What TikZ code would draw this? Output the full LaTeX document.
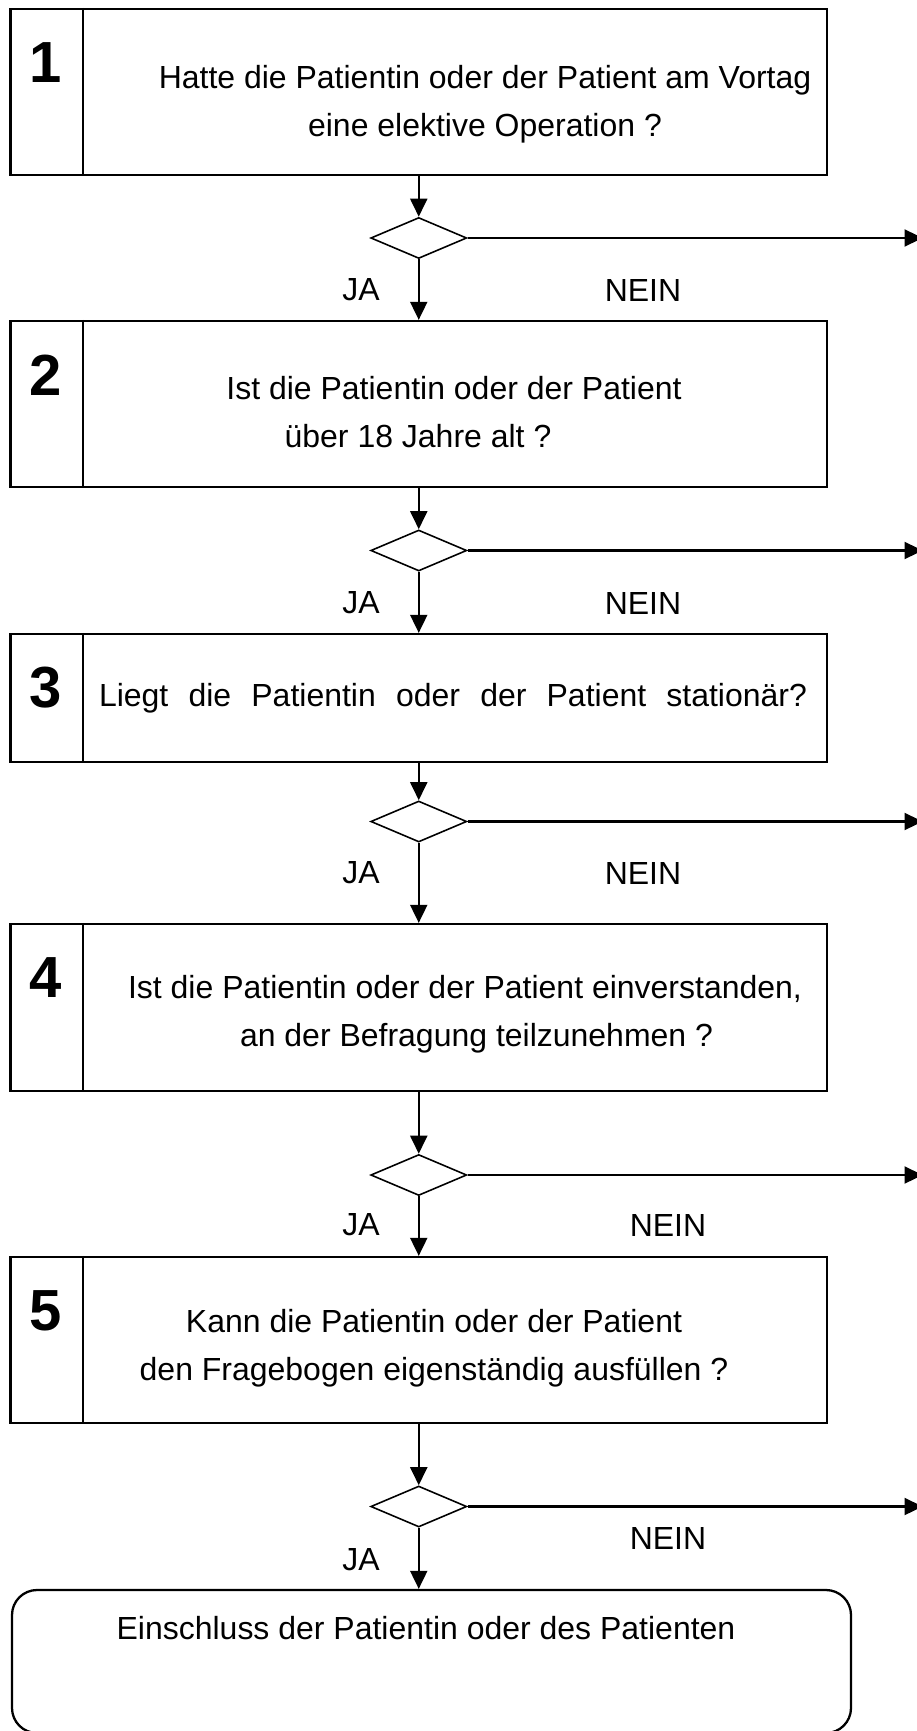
\documentclass[tikz,border=0pt]{standalone}
\usepackage{fontspec}
\setmainfont{Liberation Sans}
\usetikzlibrary{shapes.geometric}
\usetikzlibrary{arrows.meta}

\begin{document}
\begin{tikzpicture}[
    qbox/.style={draw, rectangle, line width=1.3pt, minimum width=16.33cm, minimum height=3.32cm},
    qtext/.style={align=center, font=\fontsize{18.2}{27.5}\selectfont},
    qnum/.style={font=\fontsize{33}{33}\selectfont\bfseries},
    check/.style={draw, diamond, line width=0.9pt, inner sep=0pt, minimum width=1.92cm, minimum height=0.82cm},
    flow/.style={line width=1.1pt, -{Triangle[length=0.36cm,width=0.34cm]}},
    answer/.style={font=\fontsize{18.2}{18}\selectfont}
]
            \useasboundingbox (0,0) rectangle (18.34,-34.62);

            % Question boxes
            \node[qbox] (box1) at (8.375,-1.84) {};
            \node[qbox] (box2) at (8.375,-8.08) {};
            \node[qbox, minimum height=2.56cm] (box3) at (8.375,-13.96) {};
            \node[qbox, minimum height=3.34cm] (box4) at (8.375,-20.15) {};
            \node[qbox] (box5) at (8.375,-26.8) {};
            \node[draw, rectangle, rounded corners=0.5cm, line width=1.3pt, minimum width=16.78cm, minimum height=2.86cm] (incl) at (8.63,-33.23) {};

            % Step numbers and dividers
            \foreach \i in {1,...,5} {
                \node[qnum] (num\i) at ([xshift=0.73cm,yshift=-1.1cm]box\i.north west) {\i};
                \draw[line width=0.8pt] ([xshift=1.47cm]box\i.north west) -- ([xshift=1.47cm]box\i.south west);
            }

            % Questions
            \node[qtext] (q1) at (9.7,-2.08) {Hatte die Patientin oder der Patient am Vortag\\eine elektive Operation ?};
            \node[qtext] (q2) at (9.08,-8.24) {Ist die Patientin oder der Patient\\über 18 Jahre alt ?\hspace*{1.44cm}};
            \node[qtext] (q3) at (9.06,-13.96) {\makebox[14.16cm][s]{Liegt die Patientin oder der Patient stationär?}};
            \node[qtext] (q4) at (9.3,-20.28) {Ist die Patientin oder der Patient einverstanden,\\\hspace*{0.46cm}an der Befragung teilzunehmen ?};
            \node[qtext] (q5) at (8.68,-26.96) {Kann die Patientin oder der Patient\\den Fragebogen eigenständig ausfüllen ?};
            \node[qtext] (q6) at (8.52,-32.56) {Einschluss der Patientin oder des Patienten};

            % Decisions
            \node[check] (d1) at (8.375,-4.76) {};
            \node[check] (d2) at (8.375,-11.01) {};
            \node[check] (d3) at (8.375,-16.43) {};
            \node[check] (d4) at (8.375,-23.5) {};
            \node[check] (d5) at (8.375,-30.13) {};

            \coordinate (out1) at (18.45,-4.76);
            \coordinate (out2) at (18.45,-11.01);
            \coordinate (out3) at (18.45,-16.43);
            \coordinate (out4) at (18.45,-23.5);
            \coordinate (out5) at (18.45,-30.13);

            % Connectors
            \foreach \i/\j in {1/2,2/3,3/4,4/5} {
                \draw[flow] (box\i.south) -- (d\i.north);
                \draw[flow] (d\i.south) -- (box\j.north);
            }
            \draw[flow] (box5.south) -- (d5.north);
            \draw[flow] (d5.south) -- (d5.south |- incl.north);
            \foreach \i in {1,...,5}
                \draw[flow, line width=1.3pt] (d\i.east) -- (out\i);

            % Answers
            \node[answer] (ja1) at (7.22,-5.8) {JA};
            \node[answer] (nein1) at (12.86,-5.8) {NEIN};
            \node[answer] (ja2) at (7.22,-12.06) {JA};
            \node[answer] (nein2) at (12.86,-12.06) {NEIN};
            \node[answer] (ja3) at (7.22,-17.46) {JA};
            \node[answer] (nein3) at (12.86,-17.46) {NEIN};
            \node[answer] (ja4) at (7.22,-24.5) {JA};
            \node[answer] (nein4) at (13.36,-24.5) {NEIN};
            \node[answer] (ja5) at (7.22,-31.2) {JA};
            \node[answer] (nein5) at (13.36,-30.76) {NEIN};
\end{tikzpicture}
\end{document}
